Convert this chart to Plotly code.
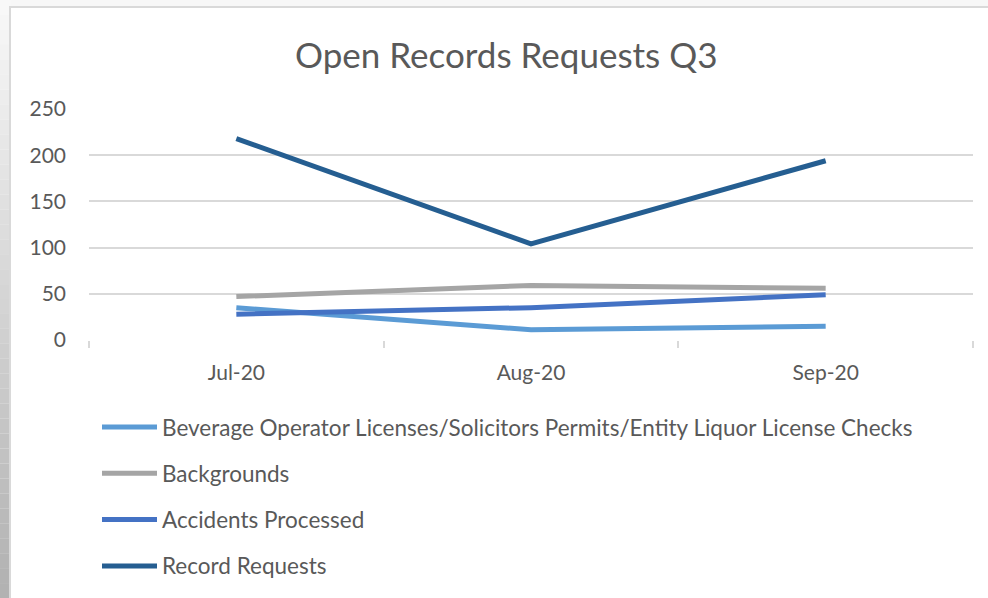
import plotly.graph_objects as go

months = ["Jul-20", "Aug-20", "Sep-20"]
series_names = [
    "Beverage Operator Licenses/Solicitors Permits/Entity Liquor License Checks",
    "Backgrounds",
    "Accidents Processed",
    "Record Requests",
]
beverage = [35, 11, 15]
backgrounds = [47, 59, 56]
accidents = [28, 35, 49]
record_requests = [218, 104, 194]
series_values = [beverage, backgrounds, accidents, record_requests]
colors = ["#5B9BD5", "#A5A5A5", "#4472C4", "#255E91"]
y_ticks = [0, 50, 100, 150, 200, 250]

W, H = 988, 598
FONT = "Lato"
TXT = "#595959"

fig = go.Figure()
for name, vals, c in zip(series_names, series_values, colors):
    fig.add_trace(go.Scatter(x=months, y=vals, name=name, mode="lines",
                             line=dict(color=c, width=5), showlegend=False))

def px_x(p):
    return p / W

def px_y(p):
    return 1 - p / H

shapes = []
# outer frame background & left gradient strip
n = 40
for i in range(n):
    y0 = H * i / n
    y1 = H * (i + 1) / n
    t = i / (n - 1)
    g = int(248 - (248 - 178) * t)
    shapes.append(dict(type="rect", xref="paper", yref="paper",
                       x0=0, x1=px_x(11), y0=px_y(y1), y1=px_y(y0),
                       fillcolor=f"rgb({g},{g},{g})", line=dict(width=0), layer="below"))
# chart area
shapes.append(dict(type="rect", xref="paper", yref="paper",
                   x0=px_x(10), x1=px_x(W + 5), y0=px_y(H + 5), y1=px_y(7),
                   fillcolor="white", line=dict(color="#D9D9D9", width=2), layer="below"))

annotations = [dict(text="Open Records Requests Q3", xref="paper", yref="paper",
                    x=px_x(506), y=px_y(54), xanchor="center", yanchor="middle",
                    showarrow=False, font=dict(family=FONT, size=35, color=TXT))]

# legend (manual, Excel-like)
for i, (name, c) in enumerate(zip(series_names, colors)):
    yc = 427 + i * 46.3
    shapes.append(dict(type="line", xref="paper", yref="paper",
                       x0=px_x(102), x1=px_x(157), y0=px_y(yc), y1=px_y(yc),
                       line=dict(color=c, width=5)))
    annotations.append(dict(text=name, xref="paper", yref="paper",
                            x=px_x(160), y=px_y(yc), xanchor="left", yanchor="middle",
                            showarrow=False, font=dict(family=FONT, size=22.5, color=TXT)))

fig.update_layout(
    width=W, height=H,
    margin=dict(l=0, r=0, t=0, b=0, pad=0, autoexpand=False),
    paper_bgcolor="#F7F7F7",
    plot_bgcolor="rgba(0,0,0,0)",
    shapes=shapes,
    annotations=annotations,
    showlegend=False,
    xaxis=dict(domain=[px_x(89), px_x(973)], type="category", range=[-0.5, 2.5],
               tickson="boundaries", ticks="outside", ticklen=7, tickcolor="#D9D9D9",
               tickwidth=1.5, showgrid=False, showline=False, zeroline=False,
               ticklabelstandoff=18, automargin=False,
               tickfont=dict(family=FONT, size=21, color=TXT)),
    yaxis=dict(domain=[px_y(340), px_y(109)], range=[0, 250], tickvals=y_ticks,
               showgrid=True, gridcolor="#D9D9D9", gridwidth=1.5, zeroline=False,
               showline=False, ticks="", ticklabelstandoff=22, automargin=False,
               tickfont=dict(family=FONT, size=21, color=TXT)),
    font=dict(family=FONT, color=TXT),
)

fig.write_html("out.html", config={"displayModeBar": False},
               post_script="document.body.style.margin='0';document.body.style.overflow='hidden';")
